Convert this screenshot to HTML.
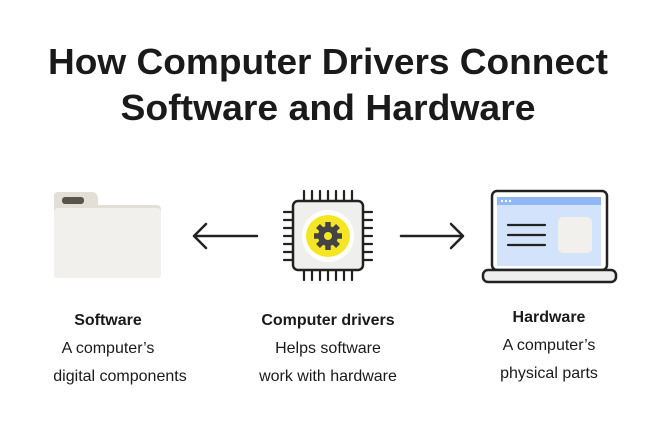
<!DOCTYPE html>
<html><head><style>
body{margin:0;width:654px;height:431px;background:#fff;overflow:hidden;font-family:"Liberation Sans",sans-serif;color:#1a1a1a}
svg{position:absolute;left:0;top:0}
</style></head><body>
<svg width="654" height="431" viewBox="0 0 654 431">
<text x="328" y="74" font-size="36" font-weight="bold" text-anchor="middle" font-family="Liberation Sans" fill="#1a1a1a" textLength="560" lengthAdjust="spacingAndGlyphs">How Computer Drivers Connect</text>
<text x="328" y="120" font-size="36" font-weight="bold" text-anchor="middle" font-family="Liberation Sans" fill="#1a1a1a" textLength="415" lengthAdjust="spacingAndGlyphs">Software and Hardware</text>
<!-- folder -->
<path d="M58 192 H92 Q97 192 98 198 V205 H157 Q161 205 161 210 V274 Q161 278 157 278 H58 Q54 278 54 274 V196 Q54 192 58 192Z" fill="#e3dfd6"/>
<rect x="54" y="208" width="107" height="70" rx="4" fill="#f2f0ec"/>
<rect x="62" y="197" width="22" height="7" rx="3" fill="#58544c"/>
<!-- arrows -->
<g stroke="#222" stroke-width="2.5" fill="none" stroke-linecap="round" stroke-linejoin="round">
<path d="M257 236 H194 M206 224 L194 236 L206 248"/>
<path d="M401 236 H463 M451 224 L463 236 L451 248"/>
</g>
<!-- chip -->
<g stroke="#222" stroke-width="2.2" stroke-linecap="round">
<path d="M304 191V200M312 191V200M320 191V200M328 191V200M336 191V200M344 191V200M352 191V200"/>
<path d="M304 271V280M312 271V280M320 271V280M328 271V280M336 271V280M344 271V280M352 271V280"/>
<path d="M284 212H292M284 220H292M284 228H292M284 236H292M284 244H292M284 252H292M284 260H292"/>
<path d="M364 212H372M364 220H372M364 228H372M364 236H372M364 244H372M364 252H372M364 260H372"/>
</g>
<rect x="293" y="201" width="70" height="69" rx="5" fill="#efefed" stroke="#222" stroke-width="2.5"/>
<circle cx="328" cy="236" r="26" fill="#fff"/>
<ellipse cx="328" cy="236" rx="22" ry="21" fill="#f5e625"/>
<g fill="#444">
<circle cx="328" cy="236" r="10"/>
<g stroke="#444" stroke-width="5.5">
<path d="M328 222V250M314 236H342M318 226L338 246M338 226L318 246"/>
</g>
</g>
<circle cx="328" cy="236" r="4" fill="#f5e625"/>
<!-- laptop -->
<rect x="492" y="191" width="115" height="79" rx="5" fill="#fff" stroke="#222" stroke-width="2.5"/>
<rect x="497" y="197" width="104" height="69" fill="#d3e3fb"/>
<rect x="497" y="197" width="104" height="8" fill="#8fb8f5"/>
<circle cx="502" cy="201" r="1.2" fill="#fff"/><circle cx="506" cy="201" r="1.2" fill="#fff"/><circle cx="510" cy="201" r="1.2" fill="#fff"/>
<g stroke="#222" stroke-width="2.2" stroke-linecap="round"><path d="M508 225H545M508 235H545M508 245H545"/></g>
<rect x="558" y="217" width="34" height="36" rx="5" fill="#f2f0ec"/>
<rect x="483" y="270" width="133" height="12" rx="5" fill="#eee" stroke="#222" stroke-width="2.5"/>
<!-- labels -->
<g font-family="Liberation Sans" font-size="16" text-anchor="middle" fill="#1a1a1a">
<text x="108" y="325" font-weight="bold">Software</text>
<text x="108" y="353">A computer’s</text>
<text x="120" y="381">digital components</text>
<text x="328" y="325" font-weight="bold">Computer drivers</text>
<text x="328" y="353">Helps software</text>
<text x="328" y="381">work with hardware</text>
<text x="549" y="322" font-weight="bold">Hardware</text>
<text x="549" y="350">A computer’s</text>
<text x="549" y="378">physical parts</text>
</g>
</svg>
</body></html>
